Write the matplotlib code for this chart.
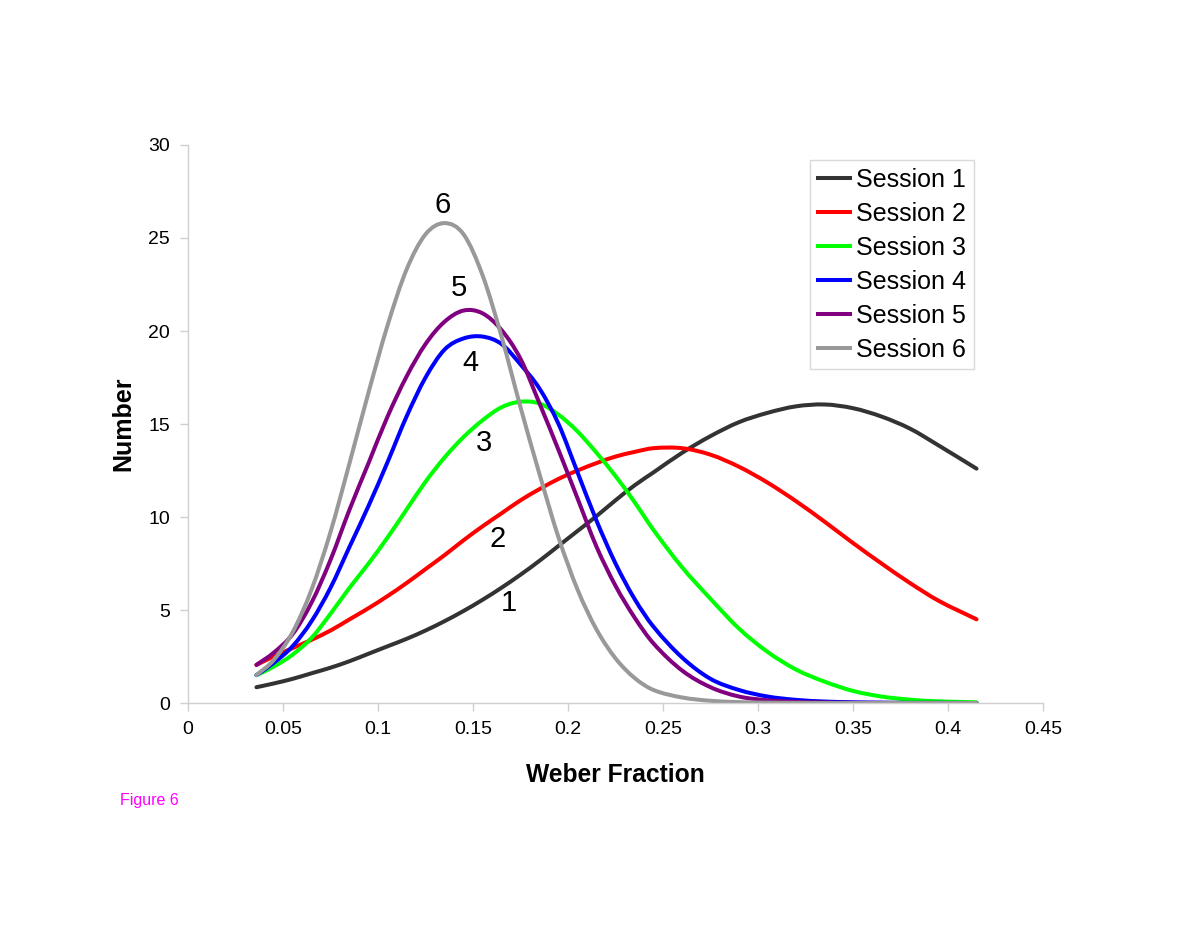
import matplotlib
matplotlib.use("Agg")
import matplotlib.pyplot as plt
from matplotlib.path import Path
from matplotlib.patches import PathPatch
from matplotlib.lines import Line2D

plt.rcParams['font.family'] = ['Liberation Sans', 'DejaVu Sans']

# weber fraction values where curves were read
weber = [0.036, 0.045, 0.055, 0.065, 0.075, 0.085, 0.095, 0.105, 0.115, 0.125,
         0.135, 0.145, 0.155, 0.165, 0.175, 0.185, 0.195, 0.205, 0.215, 0.225,
         0.235, 0.245, 0.26, 0.275, 0.29, 0.305, 0.32, 0.335, 0.35, 0.365,
         0.38, 0.395, 0.415]

session1 = [0.85, 1.05, 1.3, 1.6, 1.9, 2.25, 2.65, 3.05, 3.45, 3.9,
            4.4, 4.95, 5.55, 6.2, 6.9, 7.65, 8.45, 9.25, 10.05, 10.9,
            11.7, 12.4, 13.45, 14.35, 15.1, 15.6, 15.95, 16.05, 15.85, 15.4,
            14.75, 13.85, 12.6]
session2 = [2.05, 2.5, 2.95, 3.4, 3.9, 4.5, 5.1, 5.75, 6.45, 7.2,
            7.95, 8.75, 9.5, 10.2, 10.9, 11.5, 12.05, 12.5, 12.9, 13.25,
            13.5, 13.7, 13.7, 13.35, 12.7, 11.85, 10.85, 9.75, 8.6, 7.5,
            6.45, 5.5, 4.5]
session3 = [1.5, 1.95, 2.6, 3.5, 4.8, 6.2, 7.5, 8.9, 10.4, 11.9,
            13.2, 14.3, 15.2, 15.9, 16.2, 16.1, 15.5, 14.6, 13.45, 12.2,
            10.8, 9.3, 7.3, 5.6, 4.0, 2.75, 1.8, 1.15, 0.65, 0.35,
            0.18, 0.09, 0.04]
session4 = [1.5, 2.15, 3.05, 4.4, 6.2, 8.4, 10.6, 12.95, 15.4, 17.5,
            19.0, 19.6, 19.7, 19.3, 18.2, 16.9, 15.0, 12.4, 9.8, 7.5,
            5.6, 4.1, 2.45, 1.3, 0.7, 0.35, 0.17, 0.08, 0.04, 0.02,
            0.01, 0.01, 0.0]
session5 = [2.05, 2.7, 3.7, 5.4, 7.7, 10.4, 12.9, 15.4, 17.55, 19.3,
            20.5, 21.1, 20.95, 20.05, 18.5, 16.1, 13.6, 11.0, 8.4, 6.3,
            4.6, 3.2, 1.75, 0.85, 0.35, 0.15, 0.06, 0.03, 0.01, 0.01,
            0.0, 0.0, 0.0]
session6 = [1.5, 2.3, 3.8, 6.1, 9.2, 12.9, 16.7, 20.3, 23.3, 25.2,
            25.8, 25.2, 23.0, 19.7, 15.9, 12.3, 8.9, 6.1, 3.95, 2.4,
            1.35, 0.7, 0.3, 0.12, 0.05, 0.02, 0.01, 0.0, 0.0, 0.0,
            0.0, 0.0, 0.0]

series = [session1, session2, session3, session4, session5, session6]
names = ['Session 1', 'Session 2', 'Session 3', 'Session 4', 'Session 5', 'Session 6']
colors = ['#333333', '#ff0000', '#00ff00', '#0000ff', '#800080', '#999999']

# curve number labels (x, y, text)
tag_x = [0.169, 0.1632, 0.1558, 0.1484, 0.1426, 0.1342]
tag_y = [5.4, 8.8, 14.0, 18.3, 22.3, 26.8]
tag_text = ['1', '2', '3', '4', '5', '6']

x_ticks = [0, 0.05, 0.1, 0.15, 0.2, 0.25, 0.3, 0.35, 0.4, 0.45]
x_tick_labels = ['0', '0.05', '0.1', '0.15', '0.2', '0.25', '0.3', '0.35', '0.4', '0.45']
y_ticks = [0, 5, 10, 15, 20, 25, 30]


def smooth_path(xs, ys):
    # smoothed line like excel: cubic bezier pieces through the read points
    n = len(xs)
    slopes = []
    for i in range(n):
        a = max(i - 1, 0)
        b = min(i + 1, n - 1)
        slopes.append((ys[b] - ys[a]) / (xs[b] - xs[a]))
    verts = [(xs[0], ys[0])]
    codes = [Path.MOVETO]
    for i in range(n - 1):
        h = xs[i + 1] - xs[i]
        verts.append((xs[i] + h / 3, ys[i] + slopes[i] * h / 3))
        verts.append((xs[i + 1] - h / 3, ys[i + 1] - slopes[i + 1] * h / 3))
        verts.append((xs[i + 1], ys[i + 1]))
        codes += [Path.CURVE4] * 3
    return Path(verts, codes)


fig = plt.figure(figsize=(12, 9.27), dpi=100)
ax = fig.add_axes([0.1567, 0.2416, 0.7125, 0.602])

handles = []
for vals, name, c in zip(series, names, colors):
    patch = PathPatch(smooth_path(weber, vals), facecolor='none', edgecolor=c,
                      lw=2.9, capstyle='round', joinstyle='round')
    ax.add_patch(patch)
    handles.append(Line2D([], [], color=c, lw=2.9, label=name))

for tx, ty, t in zip(tag_x, tag_y, tag_text):
    ax.text(tx, ty, t, fontsize=21, ha='center', va='center')

ax.set_xlim(0, 0.45)
ax.set_ylim(0, 30)
ax.set_xticks(x_ticks)
ax.set_xticklabels(x_tick_labels)
ax.set_yticks(y_ticks)
ax.tick_params(labelsize=14, length=6, width=1, color='#d0d0d0', pad=7)

for s in ['top', 'right']:
    ax.spines[s].set_visible(False)
for s in ['left', 'bottom']:
    ax.spines[s].set_color('#d0d0d0')
    ax.spines[s].set_linewidth(1)

ax.set_xlabel('Weber Fraction', fontsize=17.7, fontweight='bold', labelpad=18)
ax.set_ylabel('Number', fontsize=18, fontweight='bold', labelpad=9)

leg = ax.legend(handles=handles, loc='upper right', bbox_to_anchor=(0.919, 0.973),
                fontsize=18, frameon=True, fancybox=False, handlelength=1.3,
                handletextpad=0.25, labelspacing=0.4, borderpad=0.3, borderaxespad=0)
leg.get_frame().set_edgecolor('#d0d0d0')
leg.get_frame().set_linewidth(1)

fig.text(120 / 1200, 1 - 800 / 927, 'Figure 6', color='#ff00ff', fontsize=11.5,
         ha='left', va='center')

fig.savefig('out.png', dpi=100)
